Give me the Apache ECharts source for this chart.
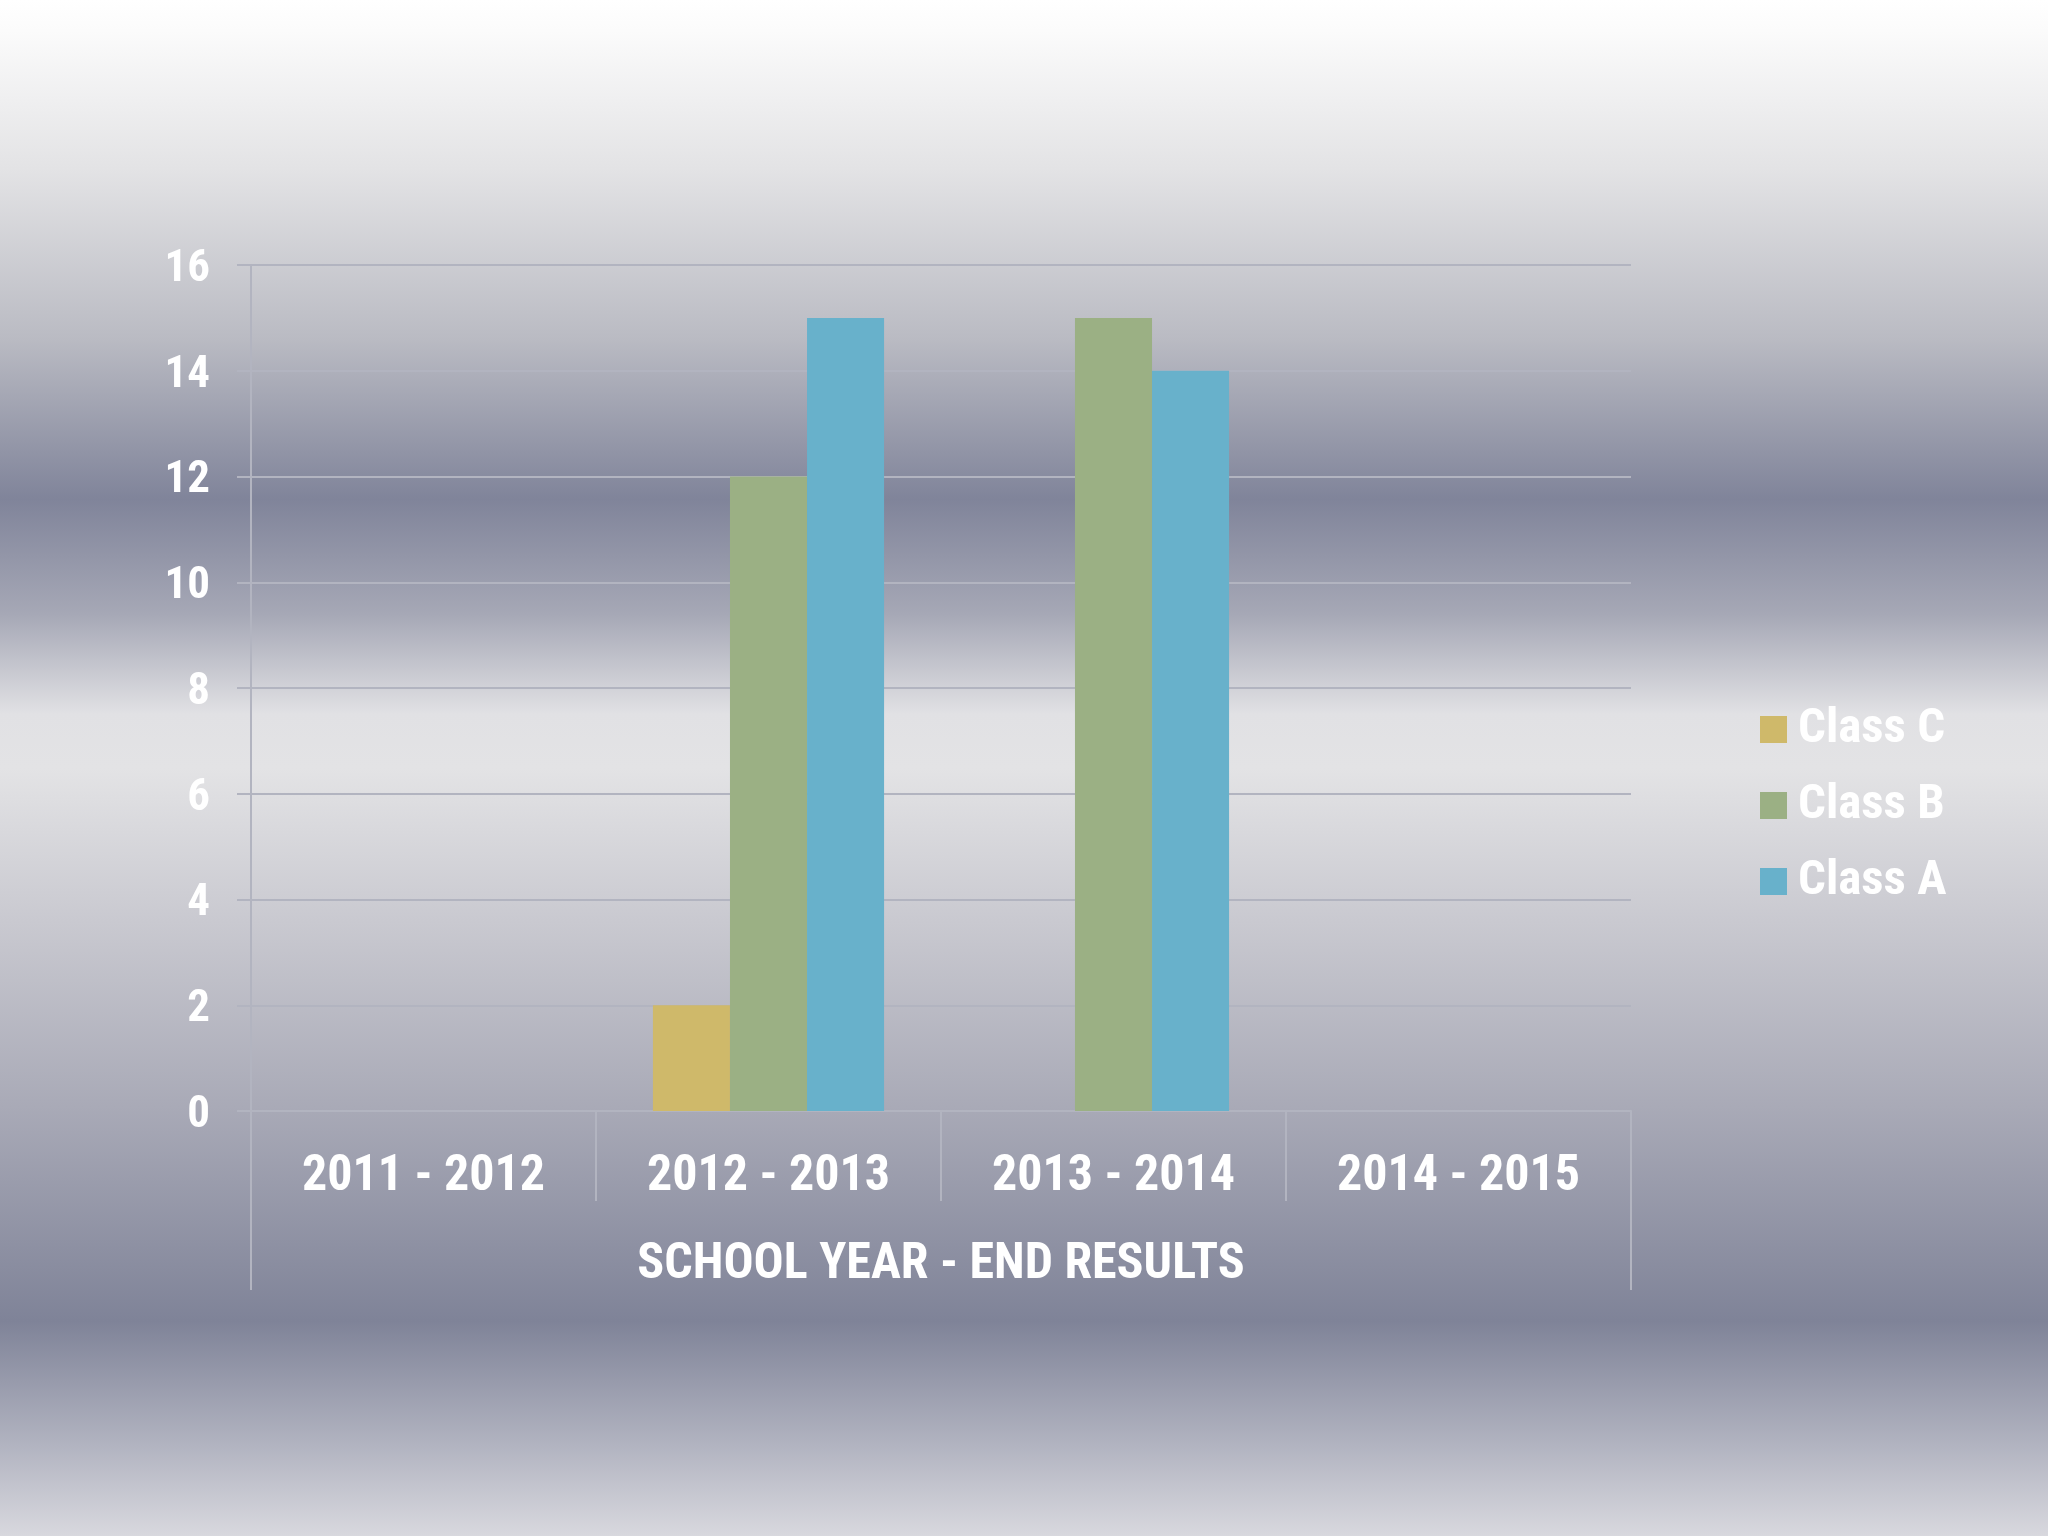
<!DOCTYPE html>
<html>
<head>
<meta charset="utf-8">
<script src="https://cdn.jsdelivr.net/npm/echarts@6/dist/echarts.min.js"></script>
<style>
html,body{margin:0;padding:0;width:2048px;height:1536px;overflow:hidden;}
#chart{width:2048px;height:1536px;}
</style>
</head>
<body>
<div id="chart"></div>
<script>
const categories = ['2011 - 2012', '2012 - 2013', '2013 - 2014', '2014 - 2015'];
const classC = [0, 2, 0, 0];
const classB = [0, 12, 15, 0];
const classA = [0, 15, 14, 0];
const axisTitle = ['SCHOOL YEAR - END RESULTS'];
const seriesNames = ['Class C', 'Class B', 'Class A'];

const FONT = '"Roboto Condensed", "Liberation Sans Narrow", "Arial Narrow", sans-serif';
const lineColor = '#b2b4c0';

const chart = echarts.init(document.getElementById('chart'));
chart.setOption({
  animation: false,
  backgroundColor: {
    type: 'linear', x: 0, y: 0, x2: 0, y2: 1,
    colorStops: [
      {offset: 0, color: '#ffffff'},
      {offset: 0.02, color: '#fbfbfb'},
      {offset: 0.11, color: '#e3e3e5'},
      {offset: 0.22, color: '#babbc3'},
      {offset: 0.325, color: '#80849a'},
      {offset: 0.40, color: '#a6a8b6'},
      {offset: 0.465, color: '#e1e1e4'},
      {offset: 0.50, color: '#e3e3e5'},
      {offset: 0.60, color: '#c9c9d0'},
      {offset: 0.72, color: '#a9aab7'},
      {offset: 0.86, color: '#7f8398'},
      {offset: 0.94, color: '#b1b3c0'},
      {offset: 1, color: '#d8d8de'}
    ]
  },
  textStyle: {fontFamily: FONT},
  grid: {left: 251, right: 417, top: 265, bottom: 425, containLabel: false},
  legend: {
    orient: 'vertical',
    left: 1755,
    top: 700,
    itemWidth: 27,
    itemHeight: 27,
    itemGap: 27,
    icon: 'rect',
    data: ['Class C', 'Class B', 'Class A'],
    textStyle: {color: '#ffffff', fontSize: 49, fontWeight: 'bold', fontFamily: FONT, lineHeight: 48, padding: [0, 0, 0, 6]}
  },
  xAxis: [
    {
      type: 'category',
      data: categories,
      position: 'bottom',
      axisLine: {show: true, lineStyle: {color: lineColor, width: 2}},
      axisTick: {show: true, length: 90, interval: 0, lineStyle: {color: lineColor, width: 2}},
      axisLabel: {color: '#ffffff', fontSize: 50, fontWeight: 'bold', fontFamily: FONT, margin: 41, interval: 0},
      splitLine: {show: false}
    },
    {
      type: 'category',
      data: axisTitle,
      position: 'bottom',
      gridIndex: 0,
      axisLine: {show: false},
      axisTick: {show: true, length: 179, interval: 0, lineStyle: {color: lineColor, width: 2}},
      axisLabel: {color: '#ffffff', fontSize: 50, fontWeight: 'bold', fontFamily: FONT, margin: 129},
      splitLine: {show: false}
    }
  ],
  yAxis: {
    type: 'value',
    min: 0, max: 16, interval: 2,
    axisLine: {show: true, lineStyle: {color: lineColor, width: 2}},
    axisTick: {show: true, length: 14, lineStyle: {color: lineColor, width: 2}},
    axisLabel: {
      margin: 41,
      formatter: '{v|{value}}',
      rich: {v: {color: '#ffffff', fontSize: 45, fontWeight: 'bold', fontFamily: FONT, padding: [9, 0, 0, 0]}}
    },
    splitLine: {show: true, lineStyle: {color: lineColor, width: 2}}
  },
  series: [
    {name: seriesNames[0], type: 'bar', data: classC, xAxisIndex: 0, barGap: '0%', barCategoryGap: '33%', itemStyle: {color: '#cfb96a'}},
    {name: seriesNames[1], type: 'bar', data: classB, xAxisIndex: 0, barGap: '0%', barCategoryGap: '33%', itemStyle: {color: '#9bb084'}},
    {name: seriesNames[2], type: 'bar', data: classA, xAxisIndex: 0, barGap: '0%', barCategoryGap: '33%', itemStyle: {color: '#68b1cb'}}
  ]
});
</script>
</body>
</html>
